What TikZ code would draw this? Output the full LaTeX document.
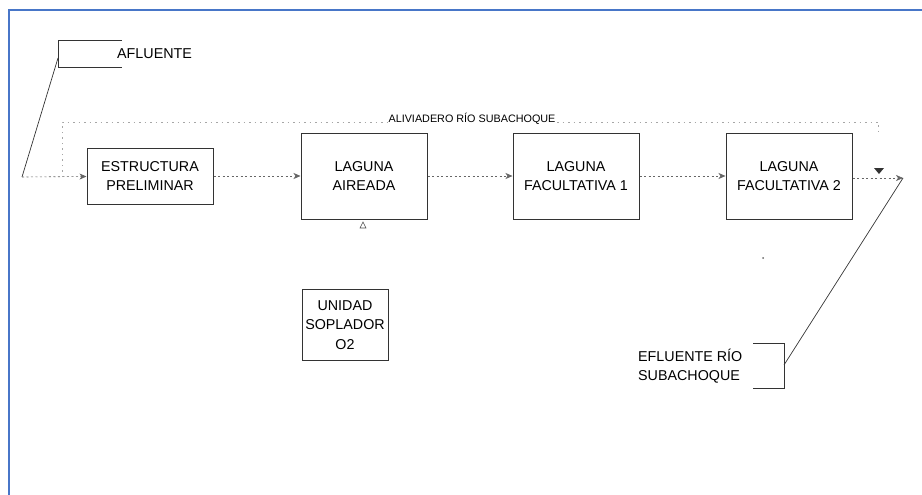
\documentclass[tikz,border=0pt]{standalone}
\usepackage{fontspec}
\setmainfont{Liberation Sans}
\usepackage{tikz}
\usetikzlibrary{arrows.meta, positioning, calc}
\definecolor{frameblue}{RGB}{72,118,200}

\begin{document}
\begin{tikzpicture}[>={Stealth[length=7pt, width=6pt, inset=2pt]}, x=1pt, y=-1pt,
    frame/.style={draw=frameblue, line width=2pt},
    flow/.style={draw=black!60, dash pattern=on 2pt off 2.5pt, line width=0.6pt},
    bypass/.style={draw=black!35, dash pattern=on 1.5pt off 4pt, line width=0.6pt},
    every node/.style={font=\fontsize{14.3}{19}\selectfont}]
    % Define styles for blocks, labels and brackets
    \tikzstyle{block} = [draw=black!80, fill=white, rectangle, line width=1pt, align=center, minimum width=126pt, minimum height=86pt]
    \tikzstyle{label} = [align=left, inner sep=0pt]
    \tikzstyle{bracket} = [draw=black!80, line width=0.9pt]

    % Page and frame
    \useasboundingbox (0,0) rectangle (922,495);
    \draw[frame] (9,495) -- (9,10) -- (922,10);

    % Nodes placement
    \coordinate (in) at (22,177);
    \coordinate (aflin) at (58,58);
    \coordinate (top1) at (62,122);
    \coordinate (top2) at (878,122);
    \coordinate (out) at (903,178);
    \coordinate (eflin) at (784,365);
    \node [block, minimum height=56pt] (estructura) at (150,176) {ESTRUCTURA\\PRELIMINAR};
    \node [block, right of=estructura, node distance=214pt] (aireada) {LAGUNA\\AIREADA};
    \node [block, right of=aireada, node distance=212pt] (fac1) {LAGUNA\\FACULTATIVA 1};
    \node [block, right of=fac1, node distance=213pt] (fac2) {LAGUNA\\FACULTATIVA 2};
    \node [block, minimum width=86pt, minimum height=71pt, inner sep=1pt, font=\fontsize{14.3}{19.5}\selectfont] (soplador) at (345,325) {UNIDAD\\SOPLADOR\\O2};
    \node [label, anchor=west] (afluente) at (117,54) {AFLUENTE};
    \node [label, anchor=west] (efluente) at (638,366) {EFLUENTE RÍO\\SUBACHOQUE};

    % Brackets
    \draw[bracket] (122,40) -| (58,67) -- (122,67);
    \draw[bracket] (753,343) -| (784,388) -- (753,388);

    % Draw edges
    \draw[draw=black!80, line width=0.7pt] (aflin) -- (in);
    \draw[flow,->] (in) -- (estructura);
    \draw[flow,->] (estructura) -- (aireada);
    \draw[flow,->] (aireada) -- (fac1);
    \draw[flow,->] (fac1) -- (fac2);
    \draw[flow,->] (fac2.east |- out) -- (out);
    \draw[draw=black!80, line width=0.7pt] (out) -- (eflin);

    % Bypass over the lagoons
    \draw[bypass] (in -| top1) -- (top1) -- (top2) -- ++(0,10);
    \node[fill=white, inner sep=1pt, font=\fontsize{10.8}{12}\selectfont] (aliviadero) at ($(top1)!0.5!(top2)+(2,-3)$) {ALIVIADERO RÍO SUBACHOQUE};

    % Small marks
    \fill[black!80] (874,168) -- (884,168) -- (879,174) -- cycle;
    \draw[black!70, line width=0.6pt] (360,228) -- (363,222) -- (366,228) -- cycle;
    \fill[black!60] (763,258) circle (1pt);
\end{tikzpicture}
\end{document}
